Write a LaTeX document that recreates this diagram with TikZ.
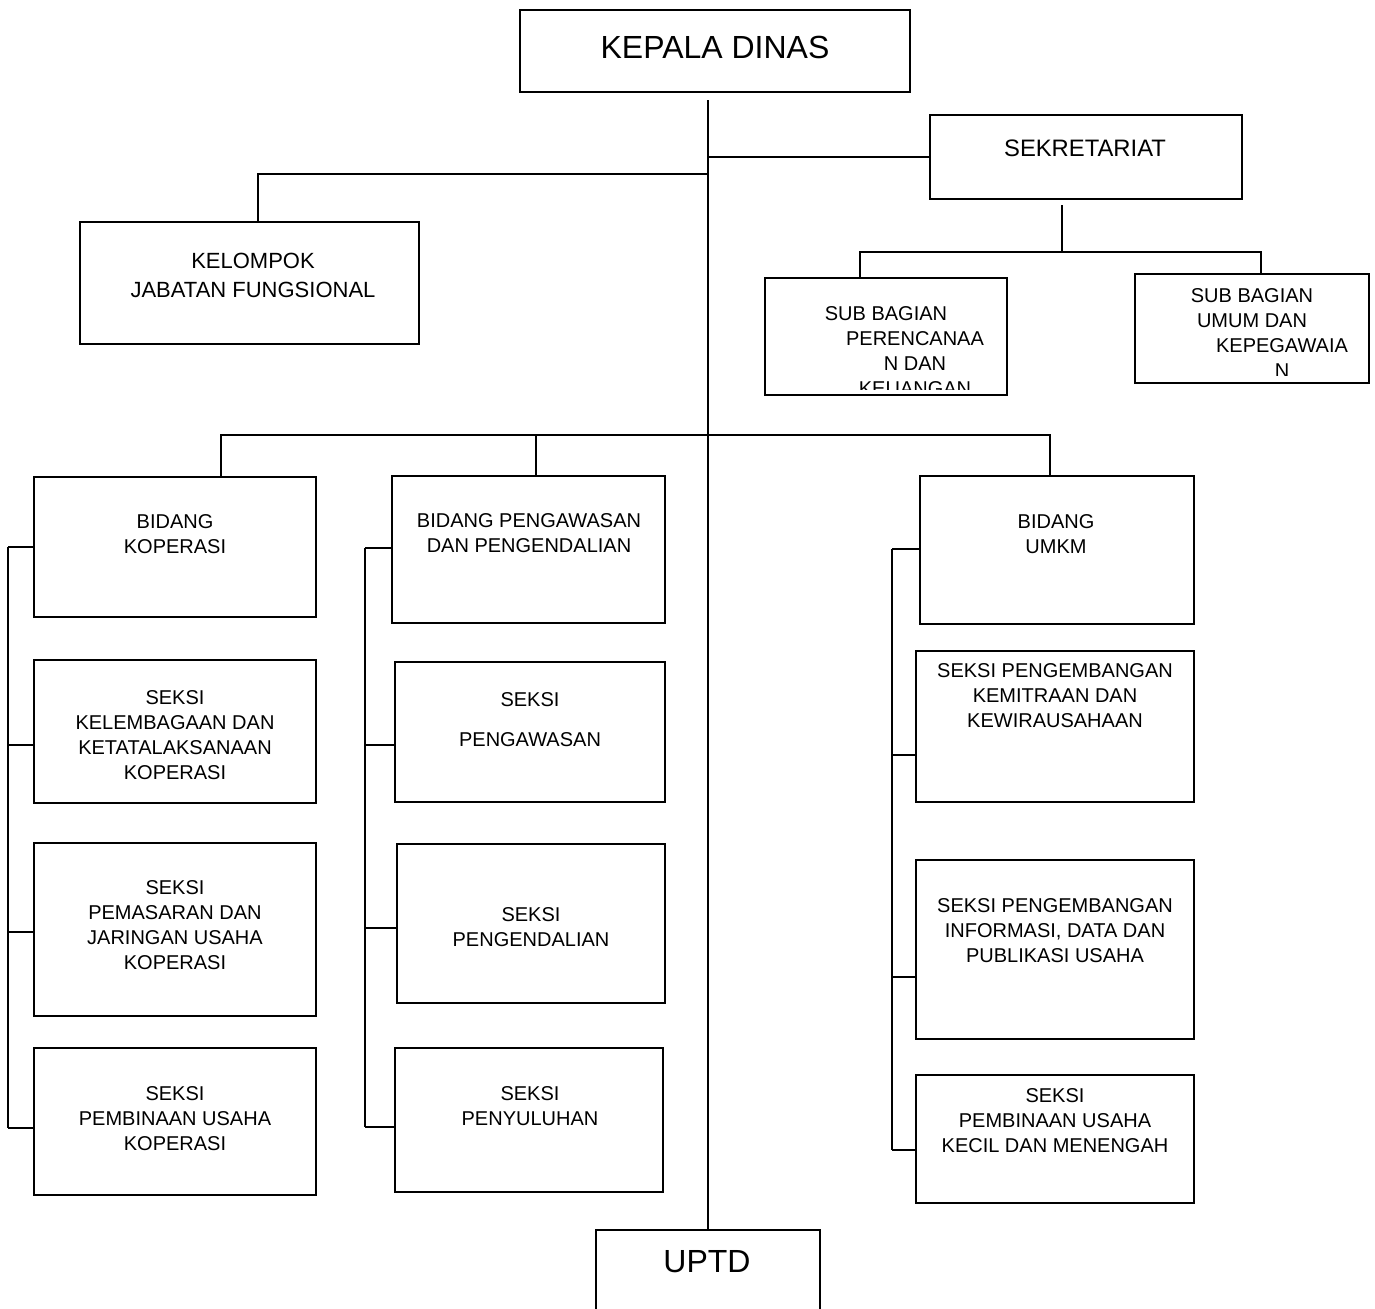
\documentclass[tikz,border=0pt]{standalone}
\usepackage{fontspec}
\setmainfont{Liberation Sans}

\tikzset{
  box/.style 2 args={draw, line width=1.4pt, minimum width=#1*0.5pt, minimum height=#2*0.5pt, inner sep=0pt},
  lbl/.style={align=center, inner sep=0pt, font=\fontsize{10}{12.5}\selectfont},
  conn/.style={line width=1.2pt},
}

\begin{document}
\begin{tikzpicture}[x=0.5pt,y=-0.5pt]
\clip (0,0) rectangle (1375,1308);
\fill[white] (0,0) rectangle (1375,1308);

% pimpinan dan sekretariat
\node[box={390}{82}] (kd) at (715,51) {};
\node[lbl,font=\fontsize{16}{19}\selectfont] (kd-t) at (715,47) {KEPALA DINAS};
\node[box={312}{84}] (sek) at (1086,157) {};
\node[lbl,font=\fontsize{11.9}{14}\selectfont] (sek-t) at (1085,148) {SEKRETARIAT};
\node[box={339}{122}] (kjf) at (249.5,283) {};
\node[lbl,font=\fontsize{11}{14.5}\selectfont] (kjf-t) at (253,275) {KELOMPOK\\JABATAN FUNGSIONAL};

\node[box={242}{117}] (sbp) at (886,336.5) {};
\begin{scope}
\clip (sbp.north west) rectangle ([yshift=3.5pt]sbp.south east);
\node[lbl] (sbp-t) at (886,351.5) {SUB BAGIAN\\\hspace*{29pt}PERENCANAA\\\hspace*{29pt}N DAN\\\hspace*{29pt}KEUANGAN};
\end{scope}
\node[box={234}{109}] (sbu) at (1252,328.5) {};
\begin{scope}
\clip (sbu.north west) rectangle ([yshift=4.5pt]sbu.south east);
\node[lbl] (sbu-t) at (1252,333.5) {SUB BAGIAN\\UMUM DAN\\\hspace*{30pt}KEPEGAWAIA\\\hspace*{30pt}N};
\end{scope}

% bidang koperasi
\node[box={282}{140}] (bk) at (175,547) {};
\node[lbl] (bk-t) at (175,534.5) {BIDANG\\KOPERASI};
\node[box={282}{143}] (kl) at (175,731.5) {};
\node[lbl] (kl-t) at (175,735) {SEKSI\\KELEMBAGAAN DAN\\KETATALAKSANAAN\\KOPERASI};
\node[box={282}{173}] (pm) at (175,929.5) {};
\node[lbl] (pm-t) at (175,925.5) {SEKSI\\PEMASARAN DAN\\JARINGAN USAHA\\KOPERASI};
\node[box={282}{147}] (pk) at (175,1121.5) {};
\node[lbl] (pk-t) at (175,1119) {SEKSI\\PEMBINAAN USAHA\\KOPERASI};

% bidang pengawasan
\node[box={273}{147}] (bp) at (528.5,549.5) {};
\node[lbl] (bp-t) at (529,533.5) {BIDANG PENGAWASAN\\DAN PENGENDALIAN};
\node[box={270}{140}] (sw) at (530,732) {};
\node[lbl] (sw-t) at (530,720) {SEKSI\\[7.5pt]PENGAWASAN};
\node[box={268}{159}] (sd) at (531,923.5) {};
\node[lbl] (sd-t) at (531,927.5) {SEKSI\\PENGENDALIAN};
\node[box={268}{144}] (sy) at (529,1120) {};
\node[lbl] (sy-t) at (530,1106.5) {SEKSI\\PENYULUHAN};

% bidang umkm
\node[box={274}{148}] (bu) at (1057,550) {};
\node[lbl] (bu-t) at (1056,534.5) {BIDANG\\UMKM};
\node[box={278}{151}] (km) at (1055,726.5) {};
\node[lbl] (km-t) at (1055,696) {SEKSI PENGEMBANGAN\\KEMITRAAN DAN\\KEWIRAUSAHAAN};
\node[box={278}{179}] (inf) at (1055,949.5) {};
\node[lbl] (inf-t) at (1055,931) {SEKSI PENGEMBANGAN\\INFORMASI, DATA DAN\\PUBLIKASI USAHA};
\node[box={278}{128}] (pu) at (1055,1139) {};
\node[lbl] (pu-t) at (1055,1121) {SEKSI\\PEMBINAAN USAHA\\KECIL DAN MENENGAH};

\node[box={224}{110}] (uptd) at (708,1285) {};
\node[lbl,font=\fontsize{16}{19}\selectfont] (uptd-t) at (707,1262) {UPTD};

% garis
\coordinate (kd-b) at (708,100);
\coordinate (j-sek) at (708,157);
\coordinate (j-kjf) at (708,174);
\coordinate (bus) at (708,435);
\draw[conn] (kd-b) -- (uptd.north);
\draw[conn] (j-sek) -- (sek.west);
\draw[conn] (j-kjf) -| ([xshift=4.25pt]kjf.north);

\coordinate (sek-b) at (1062,205);
\coordinate (sek-m) at (1062,252);
\draw[conn] (sek-b) -- (sek-m);
\draw[conn] ([xshift=-13pt]sbp.north) |- (sek-m) -| ([xshift=4.5pt]sbu.north);

\draw[conn] ([xshift=23pt]bk.north) |- (bus) -| ([xshift=-3.5pt]bu.north);
\draw[conn] ([xshift=3.75pt]bp.north) |- (bus);

\draw[conn] (8,547) -- (8,1128);
\foreach \n/\y in {bk/547,kl/745,pm/932,pk/1128}
  \draw[conn] (8,\y) -- (\n.west |- 0,\y);
\draw[conn] (365,548) -- (365,1127);
\foreach \n/\y in {bp/548,sw/745,sd/928,sy/1127}
  \draw[conn] (365,\y) -- (\n.west |- 0,\y);
\draw[conn] (892,549) -- (892,1150);
\foreach \n/\y in {bu/549,km/755,inf/977,pu/1150}
  \draw[conn] (892,\y) -- (\n.west |- 0,\y);
\end{tikzpicture}
\end{document}
